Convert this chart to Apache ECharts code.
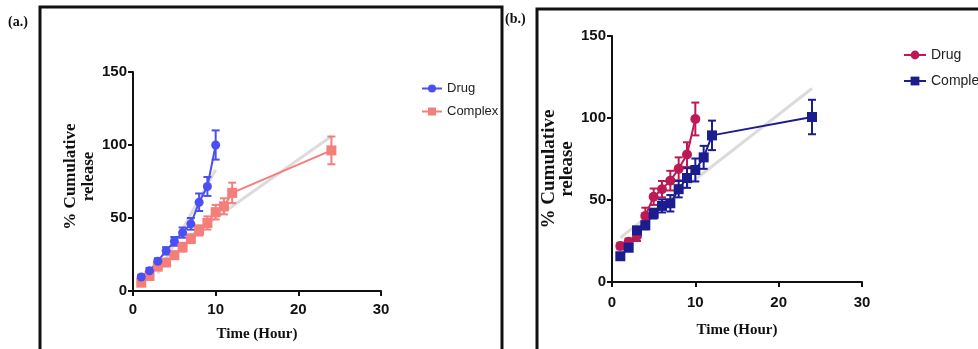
<!DOCTYPE html>
<html><head><meta charset="utf-8">
<script src="https://cdn.jsdelivr.net/npm/echarts@6/dist/echarts.min.js"></script>
<style>html,body{margin:0;padding:0;background:#fff}#c{width:978px;height:349px}</style>
</head><body><div id="c"></div>
<script>
// ---- data ----
const timeDrug = [1,2,3,4,5,6,7,8,9,10];
const timeComplex = [1,2,3,4,5,6,7,8,9,10,11,12,24];
// panel (a)
const drugA = [9.6,13.8,20.4,27.5,34,40,46,60.8,71.6,100];
const drugAErr = [1.5,2,2,2.5,3,3.5,4,6,6.5,10];
const complexA = [5.7,10.3,16.7,19.5,24.5,30,35.8,41.5,46.6,54,58,67.2,96.3];
const complexAErr = [1.5,1.5,2,2,2.5,3,3,3.5,4.5,5,5.5,7,9.5];
const fitDrugA = [[3,12],[10,83]];
const fitComplexA = [[7,38],[24,106]];
// panel (b)
const drugB = [21.9,24.5,28,40.3,52,56.6,61.8,69,77.7,99.4];
const drugBErr = [2,2,3,5,5,5,6,7,7.5,10];
const complexB = [15.7,20.9,31.5,34.6,41.7,46.4,48,56.6,63.4,68.3,76,89.4,100.6];
const complexBErr = [2,2,2,2.5,3,4,5,5,6,7,7,9,10.5];
const fitB = [[1,27],[24,118]];
// axes
const xTicks = [0,10,20,30];
const yTicks = [0,50,100,150];

const col = {drugA:'#4b4ff0', complexA:'#f47f7a', drugB:'#bd1a55', complexB:'#1b1c8e', fit:'#dcdcdc'};
const sans = '"Liberation Sans",Arial,sans-serif';
const serif = '"Liberation Serif","Times New Roman",serif';

function pairs(xs, ys){ return xs.map((x,i)=>[x, ys[i]]); }
function errData(xs, ys, es){ return xs.map((x,i)=>[x, ys[i], es[i]]); }

function errSeries(idx, xs, ys, es, color){
  return {
    type:'custom', xAxisIndex:idx, yAxisIndex:idx, z:3, silent:true,
    data: errData(xs, ys, es),
    encode:{x:0, y:[1]},
    renderItem:function(params, api){
      const x = api.value(0), y = api.value(1), e = api.value(2);
      const top = api.coord([x, y+e]);
      const bot = api.coord([x, y-e]);
      const w = 4;
      const st = {stroke:color, lineWidth:2};
      return {type:'group', children:[
        {type:'line', shape:{x1:top[0], y1:top[1], x2:bot[0], y2:bot[1]}, style:st},
        {type:'line', shape:{x1:top[0]-w, y1:top[1], x2:top[0]+w, y2:top[1]}, style:st},
        {type:'line', shape:{x1:bot[0]-w, y1:bot[1], x2:bot[0]+w, y2:bot[1]}, style:st}
      ]};
    }
  };
}

function xAxis(idx){
  return {
    type:'value', gridIndex:idx, min:xTicks[0], max:xTicks[xTicks.length-1], interval:10,
    name:'Time (Hour)', nameLocation:'middle', nameGap: idx===0?36:41,
    nameTextStyle:{fontFamily:serif, fontWeight:'bold', fontSize:15, color:'#111'},
    axisLine:{lineStyle:{color:'#111', width:2}},
    axisTick:{show:true, length:5, lineStyle:{color:'#111', width:2}},
    axisLabel:{fontFamily:sans, fontWeight:'bold', fontSize:15, color:'#111', margin: idx===0?11:13},
    splitLine:{show:false}
  };
}
function yAxis(idx){
  return {
    type:'value', gridIndex:idx, min:yTicks[0], max:yTicks[yTicks.length-1], interval:50,
    name:'% Cumulative\nrelease', nameLocation:'middle', nameGap: idx===0?34:28, nameRotate:90,
    nameTextStyle:{fontFamily:serif, fontWeight:'bold', fontSize:idx===0?17:19, color:'#111', lineHeight:18, align:'center',
      padding: idx===0?[0,0,0,10]:[0,20,0,0]},
    axisLine:{show:true, lineStyle:{color:'#111', width:2}},
    axisTick:{show:true, length:5, lineStyle:{color:'#111', width:2}},
    axisLabel:{fontFamily:sans, fontWeight:'bold', fontSize:15, color:'#111', margin:6},
    splitLine:{show:false}
  };
}

function lineSeries(name, idx, xs, ys, color, symbol, size){
  return {
    name:name, type:'line', xAxisIndex:idx, yAxisIndex:idx, z:4,
    data: pairs(xs, ys), symbol:symbol, symbolSize:size, showSymbol:true,
    lineStyle:{color:color, width:2}, itemStyle:{color:color}, emphasis:{disabled:true}
  };
}
function fitSeries(idx, pts){
  return {type:'line', xAxisIndex:idx, yAxisIndex:idx, z:1, data:pts, symbol:'none',
    lineStyle:{color:col.fit, width:3}, silent:true};
}

const chart = echarts.init(document.getElementById('c'), null, {renderer:'canvas'});
chart.setOption({
  backgroundColor:'#fff',
  animation:false,
  grid:[
    {left:133, top:72, width:248, height:219},
    {left:612, top:36, width:250, height:246}
  ],
  xAxis:[xAxis(0), xAxis(1)],
  yAxis:[yAxis(0), yAxis(1)],
  legend:[
    {data:['a-Drug','a-Complex'], orient:'vertical', left:416, top:77, itemWidth:20, itemHeight:10, itemGap:10,
     formatter:n=>n.slice(2), textStyle:{fontFamily:sans, fontSize:13, color:'#222'}, selectedMode:false},
    {data:['b-Drug','b-Complex'], orient:'vertical', left:898, top:43, itemWidth:22, itemHeight:11, itemGap:12,
     formatter:n=>n.slice(2), textStyle:{fontFamily:sans, fontSize:14, color:'#222'}, selectedMode:false}
  ],
  graphic:[
    {type:'rect', shape:{x:40, y:7, width:462, height:360}, style:{fill:'none', stroke:'#111', lineWidth:3}, silent:true},
    {type:'rect', shape:{x:537, y:9, width:460, height:360}, style:{fill:'none', stroke:'#111', lineWidth:3}, silent:true},
    {type:'text', left:8, top:15, style:{text:'(a.)', font:'bold 14px "Liberation Serif", serif', fill:'#111'}},
    {type:'text', left:505, top:12, style:{text:'(b.)', font:'bold 14px "Liberation Serif", serif', fill:'#111'}}
  ],
  series:[
    fitSeries(0, fitDrugA),
    fitSeries(0, fitComplexA),
    errSeries(0, timeComplex, complexA, complexAErr, col.complexA),
    lineSeries('a-Complex', 0, timeComplex, complexA, col.complexA, 'rect', 10),
    errSeries(0, timeDrug, drugA, drugAErr, col.drugA),
    lineSeries('a-Drug', 0, timeDrug, drugA, col.drugA, 'circle', 9),
    fitSeries(1, fitB),
    errSeries(1, timeDrug, drugB, drugBErr, col.drugB),
    lineSeries('b-Drug', 1, timeDrug, drugB, col.drugB, 'circle', 10),
    errSeries(1, timeComplex, complexB, complexBErr, col.complexB),
    lineSeries('b-Complex', 1, timeComplex, complexB, col.complexB, 'rect', 10)
  ]
});
</script></body></html>
